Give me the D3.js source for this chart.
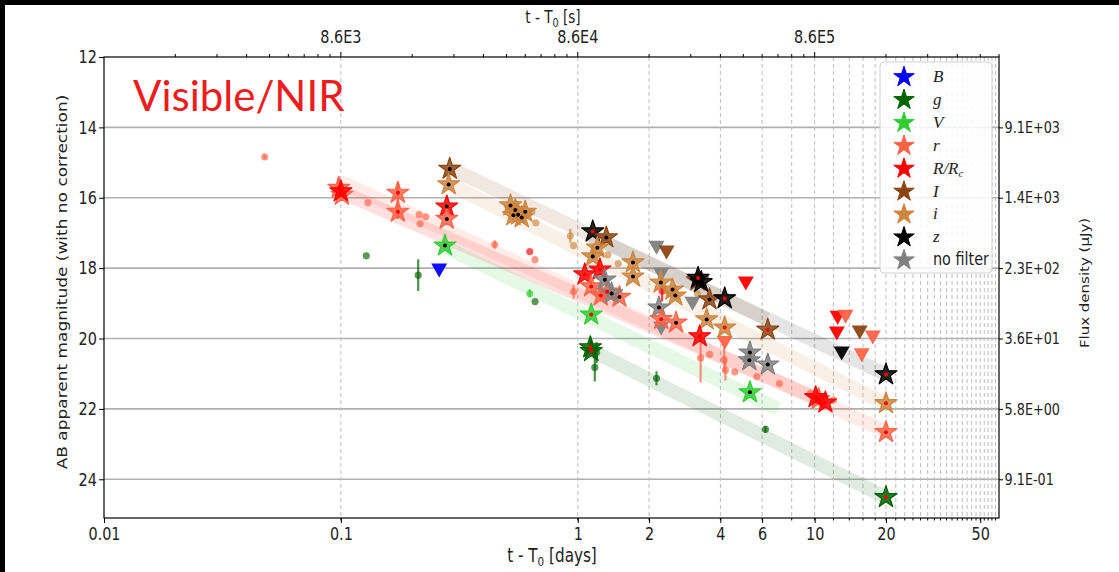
<!DOCTYPE html>
<html><head><meta charset="utf-8">
<script src="https://cdn.jsdelivr.net/npm/d3@7"></script>
<style>
html,body{margin:0;padding:0;background:#fff;overflow:hidden;width:1119px;height:572px;}
svg{display:block;}
</style></head><body>
<svg id="c" width="1119" height="572"></svg>
<script>
// ---------- DATA ----------
const filters = ["B","g","V","r","R","I","i","z","nf"];
const filterLabels = ["B","g","V","r","R/Rc","I","i","z","no filter"];
const filterColors = ["#0000ff","#006400","#32cd32","#ff6347","#ff0000","#8b4513","#cd853f","#000000","#808080"];

// detections: [filter, t (days), AB mag, center-dot group (0 black / 1 red), error]
const stars = [
  ["r",0.098,15.72,1,0.3],["r",0.101,15.92,1,0],["R",0.100,15.82,1,0],
  ["r",0.174,15.86,1,0.3],["r",0.174,16.40,1,0.2],
  ["I",0.288,15.18,0,0],["i",0.285,15.62,0,0],["R",0.280,16.25,0,0],["r",0.280,16.60,0,0],["V",0.275,17.36,0,0],
  ["i",0.52,16.22,0,0],["i",0.545,16.35,0,0],["i",0.56,16.48,0,0],["i",0.58,16.56,0,0],["i",0.60,16.40,0,0],["i",0.535,16.50,0,0],
  ["z",1.157,16.96,1,0],["I",1.32,17.13,0,0],["i",1.21,17.42,0,0],["i",1.157,17.67,0,0],
  ["R",1.07,18.18,1,0],["R",1.24,18.04,1,0],
  ["r",1.14,18.52,1,0],["r",1.33,18.67,1,0],["r",1.50,18.82,0,0],["r",1.25,18.78,1,0],
  ["nf",1.30,18.33,0,0],["nf",1.39,18.72,0,0],
  ["V",1.14,19.32,1,0],["g",1.13,20.25,1,0],["g",1.14,20.36,1,0],
  ["i",1.71,17.84,0,0],["i",1.71,18.24,0,0],
  ["i",2.24,18.41,0,0],["i",2.51,18.61,0,0],["i",2.58,18.78,0,0],
  ["nf",2.20,19.12,0,0],["r",2.25,19.45,1,0],["r",2.60,19.55,0,0],
  ["I",3.20,18.35,0,0],["z",3.22,18.28,1,0],["z",3.32,18.40,0,0],
  ["I",3.60,18.89,0,0],["z",4.17,18.86,1,0],["i",3.50,19.46,0,0],["i",4.17,19.69,1,0],["R",3.27,19.94,1,0],
  ["nf",5.33,20.40,0,0],["nf",5.30,20.62,0,0],["nf",6.34,20.74,0,0],["V",5.33,21.53,0,0],["I",6.34,19.75,1,0],
  ["r",10.4,21.72,1,0],["R",10.1,21.67,1,0],["R",11.1,21.82,1,0],
  ["z",20,21.02,1,0],["i",20,21.84,1,0],["r",20,22.66,1,0],["g",20,24.51,1,0]
];

// upper limits: [filter, t, mag]
const limits = [
  ["B",0.26,18.04],["nf",2.15,17.39],["I",2.37,17.53],["nf",2.25,18.16],["nf",3.05,18.98],["nf",2.25,19.69],
  ["r",4.17,20.10],["R",5.12,18.41],["R",12.5,19.38],["r",13.5,19.35],["R",12.4,19.83],["I",15.5,19.80],
  ["r",17.6,19.94],["z",13.0,20.40],["r",15.8,20.45]
];

// individual points: [filter, t, mag, error]
const points = [
  ["r",0.0477,14.84,0.06],
  ["r",0.130,16.14,0],["r",0.214,16.48,0],["r",0.228,16.54,0],["r",0.216,16.74,0],
  ["g",0.128,17.65,0],["g",0.212,18.20,0.45],
  ["i",0.64,16.40,0],["i",0.665,16.71,0],["i",0.93,17.08,0.2],["i",0.96,17.36,0],
  ["r",0.446,17.33,0.12],["R",0.627,17.53,0],["r",0.66,17.76,0],["r",0.96,18.67,0.2],
  ["V",0.627,18.72,0.12],["g",0.66,18.95,0],
  ["i",1.34,17.62,0],["i",1.48,17.87,0],
  ["g",1.20,20.40,0.3],["g",1.18,20.82,0.4],["g",2.15,21.13,0.2],["g",6.2,22.58,0.1],
  ["R",2.27,18.65,0.3],["i",3.20,18.72,0],
  ["r",3.30,20.55,0.7],["r",3.60,20.45,0],["r",4.15,20.60,0.35],["r",4.20,20.90,0.3],
  ["r",4.60,20.95,0],["r",5.70,21.08,0],["r",7.10,21.28,0],["r",9.6,21.55,0],["r",12.0,21.75,0]
];

// power-law fit bands: [filter, t start, mag start, t end, mag end]
const fits = [
  ["I",0.288,15.15,6.3,19.45],
  ["z",1.10,17.05,20,21.02],
  ["i",0.285,15.60,20,21.86],
  ["r",0.100,15.55,20,22.64],
  ["R",0.100,15.83,11.1,21.80],
  ["V",0.275,17.40,7.0,22.0],
  ["g",1.14,20.34,20,24.51]
];

// axes ticks
const xTickVals = [0.01,0.1,1,2,4,6,10,20,50];
const xTickLabels = ["0.01","0.1","1","2","4","6","10","20","50"];
const xGridVals = [0.1,1,2,4,6,8,10,12,14,16,18,20,22,24,26,28,30,32,34,36,38,40,42,44,46,48,50,52,54,56,58];
const topTickSec = [8.64e3,8.64e4,8.64e5];
const topTickLabels = ["8.6E3","8.6E4","8.6E5"];
const yTickVals = [12,14,16,18,20,22,24];
const fluxTickMags = [14,16,18,20,22,24];
const fluxTickLabels = ["9.1E+03","1.4E+03","2.3E+02","3.6E+01","5.8E+00","9.1E-01"];

// ---------- DRAW ----------
const svg = d3.select("#c");
const L=104, R=999, T=57, B=518;
const x = d3.scaleLog().domain([0.01,60]).range([L,R]);
const y = d3.scaleLinear().domain([12,25.1]).range([T,B]);
const col = d3.scaleOrdinal().domain(filters).range(filterColors);
const secToDay = s => s/86400;
const SX = 0.8; // horizontal squeeze of the reference's lettering
const tickFont = '"DejaVu Sans",sans-serif';

svg.append("rect").attr("width",1119).attr("height",572).attr("fill","#fff");
svg.append("rect").attr("x",0).attr("y",0).attr("width",1119).attr("height",5).attr("fill","#000");
svg.append("rect").attr("x",0).attr("y",0).attr("width",5).attr("height",572).attr("fill","#000");

const plot = svg.append("g");
plot.append("defs").append("clipPath").attr("id","clip").append("rect")
  .attr("x",L).attr("y",T).attr("width",R-L).attr("height",B-T);

// grid
plot.append("g").selectAll("line").data(yTickVals.slice(1)).join("line")
  .attr("x1",L).attr("x2",R).attr("y1",d=>y(d)).attr("y2",d=>y(d))
  .attr("stroke","#b0b0b0").attr("stroke-width",1.6);
plot.append("g").selectAll("line").data(xGridVals).join("line")
  .attr("x1",d=>x(d)).attr("x2",d=>x(d)).attr("y1",T).attr("y2",B)
  .attr("stroke","#bdbdbd").attr("stroke-width",1).attr("stroke-dasharray","4,3");

const g = plot.append("g").attr("clip-path","url(#clip)");
// fit bands
g.append("g").selectAll("line").data(fits).join("line")
  .attr("x1",d=>x(d[1])).attr("y1",d=>y(d[2])).attr("x2",d=>x(d[3])).attr("y2",d=>y(d[4]))
  .attr("stroke",d=>col(d[0])).attr("stroke-opacity",d=>d[0]==="z"?0.1:0.12)
  .attr("stroke-width",14);

// points with error bars
const pg = g.append("g");
pg.selectAll("line").data(points.filter(d=>d[3]>0)).join("line")
  .attr("x1",d=>x(d[1])).attr("x2",d=>x(d[1])).attr("y1",d=>y(d[2]-d[3])).attr("y2",d=>y(d[2]+d[3]))
  .attr("stroke",d=>col(d[0])).attr("stroke-width",2.2).attr("stroke-opacity",0.7);
pg.selectAll("circle").data(points).join("circle")
  .attr("cx",d=>x(d[1])).attr("cy",d=>y(d[2])).attr("r",3.6)
  .attr("fill",d=>col(d[0])).attr("fill-opacity",0.65);

// upper limits (down triangles)
const tri = "M-8,-6L8,-6L0,8Z";
g.append("g").selectAll("path").data(limits).join("path")
  .attr("d",tri).attr("transform",d=>`translate(${x(d[1])},${y(d[2])})`)
  .attr("fill",d=>col(d[0])).attr("fill-opacity",0.95);

// stars
const starPath = d3.symbol().type(d3.symbolStar).size(150)();
const sg = g.append("g");
sg.selectAll("line").data(stars.filter(d=>d[4]>0)).join("line")
  .attr("x1",d=>x(d[1])).attr("x2",d=>x(d[1])).attr("y1",d=>y(d[2]-d[4])).attr("y2",d=>y(d[2]+d[4]))
  .attr("stroke",d=>col(d[0])).attr("stroke-width",2.5);
sg.selectAll("path").data(stars).join("path")
  .attr("d",starPath).attr("transform",d=>`translate(${x(d[1])},${y(d[2])})`)
  .attr("fill",d=>col(d[0])).attr("fill-opacity",0.85)
  .attr("stroke",d=>col(d[0])).attr("stroke-width",1.2).attr("stroke-linejoin","round");
sg.selectAll("circle").data(stars).join("circle")
  .attr("cx",d=>x(d[1])).attr("cy",d=>y(d[2])).attr("r",2)
  .attr("fill",d=>d[3]===1?"#ff0000":"#000");

// spines
plot.append("rect").attr("x",L).attr("y",T).attr("width",R-L).attr("height",B-T)
  .attr("fill","none").attr("stroke","#000").attr("stroke-width",1.2);

// bottom axis
const xb = d3.axisBottom(x).tickValues(xTickVals).tickFormat((d,i)=>xTickLabels[i]).tickSize(5).tickPadding(4);
const gb = svg.append("g").attr("transform",`translate(0,${B})`).call(xb);
gb.select(".domain").remove();
gb.selectAll("text").attr("font-size",18).attr("font-family",tickFont).attr("fill","#222")
  .attr("transform",`scale(${SX},1)`);
svg.append("g").attr("transform",`translate(0,${B})`).selectAll("line").data(xGridVals).join("line")
  .attr("x1",d=>x(d)).attr("x2",d=>x(d)).attr("y1",0).attr("y2",2.5).attr("stroke","#000");

// top axis in seconds
const topMinor = [];
[864, 8640, 86400, 864000].forEach(b=>{for(let k=2;k<=9;k++){const v=b*k; if(secToDay(v)<=60) topMinor.push(v);}});
const gt = svg.append("g").attr("transform",`translate(0,${T})`);
gt.selectAll("line.mn").data(topMinor).join("line").attr("class","mn")
  .attr("x1",d=>x(secToDay(d))).attr("x2",d=>x(secToDay(d))).attr("y1",0).attr("y2",-3).attr("stroke","#000");
gt.selectAll("line.mj").data(topTickSec).join("line").attr("class","mj")
  .attr("x1",d=>x(secToDay(d))).attr("x2",d=>x(secToDay(d))).attr("y1",0).attr("y2",-5).attr("stroke","#000");
gt.selectAll("text").data(topTickSec).join("text")
  .attr("transform",d=>`translate(${x(secToDay(d))},-14) scale(${SX},1)`).attr("text-anchor","middle")
  .attr("font-size",18).attr("font-family",tickFont).attr("fill","#222")
  .text((d,i)=>topTickLabels[i]);

// left axis
const yl = d3.axisLeft(y).tickValues(yTickVals).tickFormat(d3.format("d")).tickSize(5).tickPadding(4);
const gl = svg.append("g").attr("transform",`translate(${L},0)`).call(yl);
gl.select(".domain").remove();
gl.selectAll("text").attr("font-size",18).attr("font-family",tickFont).attr("fill","#222")
  .attr("transform",`scale(${SX},1)`);

// right axis (flux density)
const yr = d3.axisRight(y).tickValues(fluxTickMags).tickFormat((d,i)=>fluxTickLabels[i]).tickSize(4).tickPadding(3);
const gr = svg.append("g").attr("transform",`translate(${R},0)`).call(yr);
gr.select(".domain").remove();
gr.selectAll("text").attr("font-size",16).attr("font-family",tickFont).attr("fill","#222")
  .attr("transform",`scale(${SX},1)`);

// axis titles
const lab = (t)=>t.attr("font-family",tickFont).attr("fill","#222").attr("text-anchor","middle");
const bt = lab(svg.append("text")).attr("transform",`translate(552,562) scale(${SX},1)`).attr("font-size",19);
bt.append("tspan").text("t - T");
bt.append("tspan").attr("font-size",13).attr("dy",4).text("0");
bt.append("tspan").attr("dy",-4).text(" [days]");
const tt = lab(svg.append("text")).attr("transform",`translate(553,23) scale(${SX},1)`).attr("font-size",17);
tt.append("tspan").text("t - T");
tt.append("tspan").attr("font-size",12).attr("dy",4).text("0");
tt.append("tspan").attr("dy",-4).text(" [s]");
lab(svg.append("text")).attr("transform",`translate(67,282) rotate(-90) scale(1,${SX})`).attr("font-size",17)
  .text("AB apparent magnitude (with no correction)");
lab(svg.append("text")).attr("transform",`translate(1089,283) rotate(-90) scale(1,${SX})`).attr("font-size",15)
  .text("Flux density (\u03bcJy)");

// Visible/NIR title
svg.append("text").attr("x",133).attr("y",111).attr("font-family","Lato, 'Noto Sans', sans-serif")
  .attr("font-size",42).attr("fill","#ee1c1c").text("Visible/NIR");

// legend
const lg = svg.append("g").attr("transform","translate(880,62)");
lg.append("rect").attr("x",0).attr("y",0).attr("width",112).attr("height",211).attr("rx",4)
  .attr("fill","#fff").attr("fill-opacity",0.85).attr("stroke","#d0d0d0");
const items = lg.selectAll("g").data(filters).join("g")
  .attr("transform",(d,i)=>`translate(0,${15+i*22.9})`);
items.append("path").attr("d",d3.symbol().type(d3.symbolStar).size(130)())
  .attr("transform","translate(24,0)").attr("fill",d=>col(d)).attr("stroke",d=>col(d)).attr("stroke-width",1);
items.each(function(d,i){
  const t = d3.select(this).append("text").attr("fill","#222");
  if(d==="nf"){
    t.attr("transform",`translate(53,5) scale(${SX},1)`).attr("font-family",tickFont).attr("font-size",18).text(filterLabels[i]);
    return;
  }
  t.attr("x",53).attr("y",5).attr("font-family","'Liberation Serif','DejaVu Serif',serif").attr("font-style","italic").attr("font-size",17);
  if(d==="R"){ t.append("tspan").text("R/R"); t.append("tspan").attr("font-size",11).attr("dy",3).text("c"); }
  else t.text(filterLabels[i]);
});
</script></body></html>
